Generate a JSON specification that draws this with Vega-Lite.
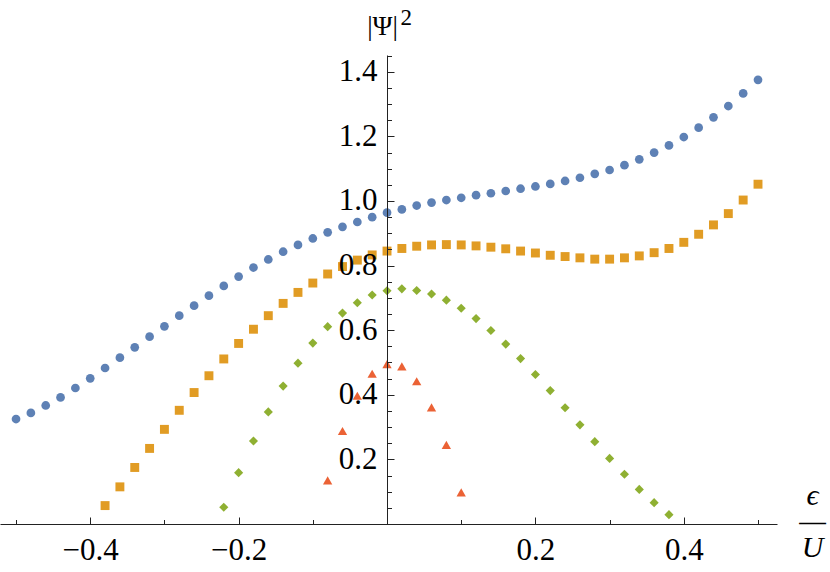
{
  "$schema": "https://vega.github.io/schema/vega-lite/v6.json",
  "width": 777,
  "height": 469,
  "autosize": {"type": "none"},
  "padding": {"left": 0, "top": 55, "right": 53, "bottom": 48},
  "background": "white",
  "config": {"view": {"stroke": null}},
  "data": {"values": [
    {"s":"A","x":-0.50,"y":0.325},{"s":"A","x":-0.48,"y":0.344},{"s":"A","x":-0.46,"y":0.367},{"s":"A","x":-0.44,"y":0.392},
    {"s":"A","x":-0.42,"y":0.421},{"s":"A","x":-0.40,"y":0.451},{"s":"A","x":-0.38,"y":0.483},{"s":"A","x":-0.36,"y":0.515},
    {"s":"A","x":-0.34,"y":0.547},{"s":"A","x":-0.32,"y":0.580},{"s":"A","x":-0.30,"y":0.612},{"s":"A","x":-0.28,"y":0.645},
    {"s":"A","x":-0.26,"y":0.676},{"s":"A","x":-0.24,"y":0.707},{"s":"A","x":-0.22,"y":0.737},{"s":"A","x":-0.20,"y":0.766},
    {"s":"A","x":-0.18,"y":0.794},{"s":"A","x":-0.16,"y":0.819},{"s":"A","x":-0.14,"y":0.843},{"s":"A","x":-0.12,"y":0.864},
    {"s":"A","x":-0.10,"y":0.884},{"s":"A","x":-0.08,"y":0.903},{"s":"A","x":-0.06,"y":0.920},{"s":"A","x":-0.04,"y":0.935},
    {"s":"A","x":-0.02,"y":0.950},{"s":"A","x":0.00,"y":0.964},{"s":"A","x":0.02,"y":0.974},{"s":"A","x":0.04,"y":0.986},
    {"s":"A","x":0.06,"y":0.995},{"s":"A","x":0.08,"y":1.003},{"s":"A","x":0.10,"y":1.010},{"s":"A","x":0.12,"y":1.018},
    {"s":"A","x":0.14,"y":1.024},{"s":"A","x":0.16,"y":1.031},{"s":"A","x":0.18,"y":1.038},{"s":"A","x":0.20,"y":1.045},
    {"s":"A","x":0.22,"y":1.053},{"s":"A","x":0.24,"y":1.062},{"s":"A","x":0.26,"y":1.072},{"s":"A","x":0.28,"y":1.084},
    {"s":"A","x":0.30,"y":1.096},{"s":"A","x":0.32,"y":1.111},{"s":"A","x":0.34,"y":1.129},{"s":"A","x":0.36,"y":1.150},
    {"s":"A","x":0.38,"y":1.172},{"s":"A","x":0.40,"y":1.198},{"s":"A","x":0.42,"y":1.227},{"s":"A","x":0.44,"y":1.259},
    {"s":"A","x":0.46,"y":1.294},{"s":"A","x":0.48,"y":1.333},{"s":"A","x":0.50,"y":1.375},
    {"s":"B","x":-0.38,"y":0.057},{"s":"B","x":-0.36,"y":0.115},{"s":"B","x":-0.34,"y":0.175},{"s":"B","x":-0.32,"y":0.234},
    {"s":"B","x":-0.30,"y":0.293},{"s":"B","x":-0.28,"y":0.352},{"s":"B","x":-0.26,"y":0.407},{"s":"B","x":-0.24,"y":0.459},
    {"s":"B","x":-0.22,"y":0.511},{"s":"B","x":-0.20,"y":0.559},{"s":"B","x":-0.18,"y":0.603},{"s":"B","x":-0.16,"y":0.645},
    {"s":"B","x":-0.14,"y":0.683},{"s":"B","x":-0.12,"y":0.717},{"s":"B","x":-0.10,"y":0.746},{"s":"B","x":-0.08,"y":0.774},
    {"s":"B","x":-0.06,"y":0.797},{"s":"B","x":-0.04,"y":0.817},{"s":"B","x":-0.02,"y":0.833},{"s":"B","x":0.00,"y":0.845},
    {"s":"B","x":0.02,"y":0.853},{"s":"B","x":0.04,"y":0.860},{"s":"B","x":0.06,"y":0.864},{"s":"B","x":0.08,"y":0.865},
    {"s":"B","x":0.10,"y":0.864},{"s":"B","x":0.12,"y":0.861},{"s":"B","x":0.14,"y":0.857},{"s":"B","x":0.16,"y":0.852},
    {"s":"B","x":0.18,"y":0.845},{"s":"B","x":0.20,"y":0.839},{"s":"B","x":0.22,"y":0.832},{"s":"B","x":0.24,"y":0.828},
    {"s":"B","x":0.26,"y":0.824},{"s":"B","x":0.28,"y":0.820},{"s":"B","x":0.30,"y":0.820},{"s":"B","x":0.32,"y":0.824},
    {"s":"B","x":0.34,"y":0.830},{"s":"B","x":0.36,"y":0.840},{"s":"B","x":0.38,"y":0.853},{"s":"B","x":0.40,"y":0.872},
    {"s":"B","x":0.42,"y":0.897},{"s":"B","x":0.44,"y":0.926},{"s":"B","x":0.46,"y":0.961},{"s":"B","x":0.48,"y":1.003},
    {"s":"B","x":0.50,"y":1.052},
    {"s":"C","x":-0.22,"y":0.052},{"s":"C","x":-0.20,"y":0.159},{"s":"C","x":-0.18,"y":0.257},{"s":"C","x":-0.16,"y":0.347},
    {"s":"C","x":-0.14,"y":0.427},{"s":"C","x":-0.12,"y":0.498},{"s":"C","x":-0.10,"y":0.560},{"s":"C","x":-0.08,"y":0.611},
    {"s":"C","x":-0.06,"y":0.653},{"s":"C","x":-0.04,"y":0.685},{"s":"C","x":-0.02,"y":0.709},{"s":"C","x":0.00,"y":0.722},
    {"s":"C","x":0.02,"y":0.728},{"s":"C","x":0.04,"y":0.723},{"s":"C","x":0.06,"y":0.712},{"s":"C","x":0.08,"y":0.693},
    {"s":"C","x":0.10,"y":0.668},{"s":"C","x":0.12,"y":0.636},{"s":"C","x":0.14,"y":0.599},{"s":"C","x":0.16,"y":0.557},
    {"s":"C","x":0.18,"y":0.512},{"s":"C","x":0.20,"y":0.463},{"s":"C","x":0.22,"y":0.413},{"s":"C","x":0.24,"y":0.360},
    {"s":"C","x":0.26,"y":0.307},{"s":"C","x":0.28,"y":0.255},{"s":"C","x":0.30,"y":0.203},{"s":"C","x":0.32,"y":0.154},
    {"s":"C","x":0.34,"y":0.107},{"s":"C","x":0.36,"y":0.066},{"s":"C","x":0.38,"y":0.029},
    {"s":"D","x":-0.08,"y":0.135},{"s":"D","x":-0.06,"y":0.288},{"s":"D","x":-0.04,"y":0.397},{"s":"D","x":-0.02,"y":0.465},
    {"s":"D","x":0.00,"y":0.495},{"s":"D","x":0.02,"y":0.488},{"s":"D","x":0.04,"y":0.442},{"s":"D","x":0.06,"y":0.361},
    {"s":"D","x":0.08,"y":0.245},{"s":"D","x":0.10,"y":0.098}
  ]},
  "layer": [
    {
      "mark": {"type": "point", "filled": true, "opacity": 1},
      "encoding": {
        "x": {
          "field": "x", "type": "quantitative",
          "scale": {"domain": [-0.5216, 0.5256], "nice": false, "zero": false},
          "axis": {
            "orient": "bottom",
            "values": [-0.5,-0.45,-0.4,-0.35,-0.3,-0.25,-0.2,-0.15,-0.1,-0.05,0,0.05,0.1,0.15,0.2,0.25,0.3,0.35,0.4,0.45,0.5],
            "grid": false,
            "tickSize": {"condition": {"test": "abs(datum.value*5 - round(datum.value*5)) < 1e-6", "value": -7}, "value": -4.5},
            "tickColor": "#222", "tickWidth": 1,
            "domainColor": "#222", "domainWidth": 1,
            "labelExpr": "abs(datum.value) < 1e-6 || abs(datum.value*5 - round(datum.value*5)) > 1e-6 ? '' : format(datum.value, '.1f')",
            "labelFont": "Liberation Serif", "labelFontSize": 31, "labelColor": "black",
            "labelPadding": 18, "labelFlush": false, "labelOverlap": false,
            "title": ["ϵ", "—", "U"],
            "titleFont": "Liberation Serif", "titleFontSize": 30, "titleFontStyle": "italic", "titleFontWeight": "normal",
            "titleColor": "black", "titleLineHeight": 26,
            "titleX": 812, "titleY": -20, "titleAlign": "center", "titleBaseline": "alphabetic", "titleAngle": 0,
            "zindex": 1
          }
        },
        "y": {
          "field": "y", "type": "quantitative",
          "scale": {"domain": [0, 1.452], "nice": false, "zero": false},
          "axis": {
            "orient": "left", "offset": -387,
            "values": [0.05,0.1,0.15,0.2,0.25,0.3,0.35,0.4,0.45,0.5,0.55,0.6,0.65,0.7,0.75,0.8,0.85,0.9,0.95,1.0,1.05,1.1,1.15,1.2,1.25,1.3,1.35,1.4,1.45],
            "grid": false,
            "tickSize": {"condition": {"test": "abs(datum.value*5 - round(datum.value*5)) < 1e-6", "value": -7}, "value": -4.5},
            "tickColor": "#222", "tickWidth": 1,
            "domainColor": "#222", "domainWidth": 1,
            "labelExpr": "abs(datum.value*5 - round(datum.value*5)) > 1e-6 ? '' : format(datum.value, '.1f')",
            "labelFont": "Liberation Serif", "labelFontSize": 31, "labelColor": "black",
            "labelPadding": 17, "labelFlush": false, "labelOverlap": false,
            "title": "|Ψ|",
            "titleFont": "Liberation Serif", "titleFontSize": 27, "titleFontWeight": "normal", "titleColor": "black",
            "titleX": -5, "titleY": -21, "titleAlign": "center", "titleBaseline": "alphabetic", "titleAngle": 0,
            "zindex": 1
          }
        },
        "color": {"field": "s", "type": "nominal", "legend": null,
          "scale": {"domain": ["A","B","C","D"], "range": ["#5E81B5","#E19C24","#8FB032","#EB6235"]}},
        "shape": {"field": "s", "type": "nominal", "legend": null,
          "scale": {"domain": ["A","B","C","D"], "range": ["circle","square","diamond","triangle-up"]}},
        "size": {"field": "s", "type": "nominal", "legend": null,
          "scale": {"domain": ["A","B","C","D"], "range": [76, 87, 70, 87]}}
      }
    },
    {
      "mark": {"type": "point", "opacity": 0},
      "encoding": {
        "x": {"field": "x", "type": "quantitative"},
        "y": {
          "field": "y", "type": "quantitative",
          "axis": {
            "orient": "right", "offset": -390,
            "domain": false, "ticks": false, "labels": false, "grid": false,
            "title": "2",
            "titleFont": "Liberation Serif", "titleFontSize": 23, "titleFontWeight": "normal", "titleColor": "black",
            "titleX": 13, "titleY": -31, "titleAlign": "left", "titleBaseline": "alphabetic", "titleAngle": 0
          }
        }
      }
    }
  ],
  "resolve": {"axis": {"y": "independent"}}
}
